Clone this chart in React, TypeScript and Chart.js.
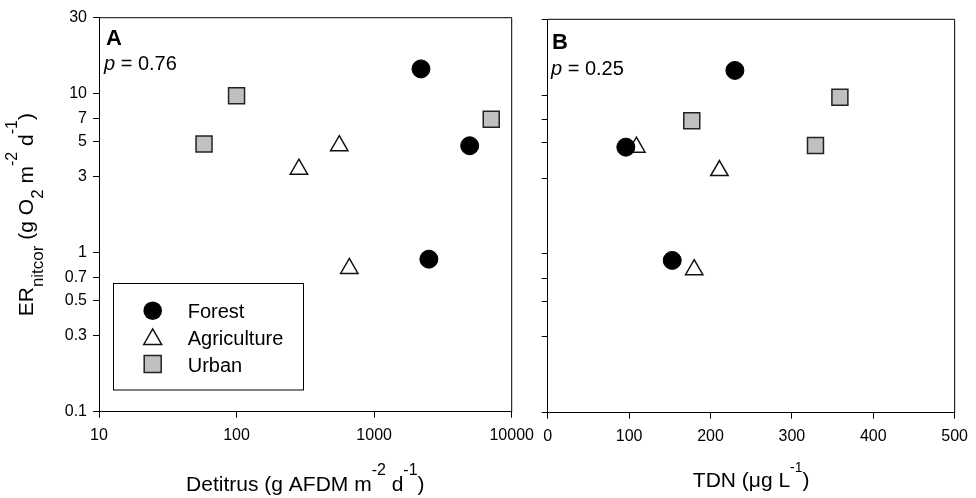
import React, { useEffect, useRef } from "react";
import { Chart, registerables } from "chart.js";
Chart.register(...registerables);

const FONT = 'Arial, "Liberation Sans", Helvetica, sans-serif';

// Tick values
const erTicks = [0.1, 0.3, 0.5, 0.7, 1, 3, 5, 7, 10, 30];
const detritusTicks = [10, 100, 1000, 10000];
const tdnTicks = [0, 100, 200, 300, 400, 500];

// Series values (same sites in both panels)
const forestER = [14.3, 4.7, 0.91];
const forestDetritus = [2190, 4950, 2500];
const forestTDN = [230, 96, 153];

const agricultureER = [3.35, 4.7, 0.795];
const agricultureDetritus = [284, 558, 660];
const agricultureTDN = [211, 109, 180];

const urbanER = [4.82, 9.7, 6.9];
const urbanDetritus = [58, 100, 7100];
const urbanTDN = [329, 359, 177];

const legendLabels = ["Forest", "Agriculture", "Urban"];

type Seg = { t: string; size: number; dy?: number; style?: string };

function drawRich(ctx: CanvasRenderingContext2D, segs: Seg[], x: number, y: number, align: "center" | "left") {
  let w = 0;
  for (const s of segs) {
    ctx.font = `${s.style || ""} ${s.size}px ${FONT}`;
    w += ctx.measureText(s.t).width;
  }
  let cx = align === "center" ? x - w / 2 : x;
  ctx.textAlign = "left";
  ctx.textBaseline = "alphabetic";
  ctx.fillStyle = "#000";
  for (const s of segs) {
    ctx.font = `${s.style || ""} ${s.size}px ${FONT}`;
    ctx.fillText(s.t, cx, y + (s.dy || 0));
    cx += ctx.measureText(s.t).width;
  }
}

const styles = {
  forest: { pointStyle: "circle", pointRadius: 9, backgroundColor: "#000", borderColor: "#000", borderWidth: 1 },
  agriculture: { pointStyle: "triangle", pointRadius: 10, backgroundColor: "#fff", borderColor: "#111", borderWidth: 1.5 },
  urban: { pointStyle: "rect", pointRadius: 11.3, backgroundColor: "#c0c0c0", borderColor: "#222", borderWidth: 1.5 },
};

function pts(xs: number[], ys: number[]) {
  return xs.map((x, i) => ({ x, y: ys[i] }));
}

function framePlugin(id: string, draw: (chart: any, ctx: CanvasRenderingContext2D) => void) {
  return {
    id,
    afterDraw(chart: any) {
      const ctx = chart.ctx as CanvasRenderingContext2D;
      const a = chart.chartArea;
      ctx.save();
      ctx.strokeStyle = "#000";
      ctx.lineWidth = 1;
      ctx.beginPath();
      ctx.moveTo(a.left, a.top);
      ctx.lineTo(a.right, a.top);
      ctx.lineTo(a.right, a.bottom);
      ctx.stroke();
      draw(chart, ctx);
      ctx.restore();
    },
  };
}

function yScale(width: number, showLabels: boolean) {
  return {
    type: "logarithmic",
    min: 0.1,
    max: 30,
    afterBuildTicks: (s: any) => {
      s.ticks = erTicks.map((v) => ({ value: v }));
    },
    afterFit: (s: any) => {
      s.width = width;
    },
    ticks: {
      autoSkip: false,
      color: "#000",
      font: { family: FONT, size: 16 },
      padding: 6,
      callback: (v: any) => (showLabels ? String(v) : ""),
    },
    grid: { display: true, drawOnChartArea: false, drawTicks: true, tickLength: 6, color: "#000", lineWidth: 1 },
    border: { display: true, color: "#000", width: 1 },
  };
}

export default function App() {
  const ref1 = useRef<HTMLCanvasElement>(null);
  const ref2 = useRef<HTMLCanvasElement>(null);

  useEffect(() => {
    const c1 = new Chart(ref1.current as HTMLCanvasElement, {
      type: "scatter",
      data: {
        datasets: [
          { label: legendLabels[0], data: pts(forestDetritus, forestER), ...styles.forest, clip: false } as any,
          { label: legendLabels[1], data: pts(agricultureDetritus, agricultureER), ...styles.agriculture, clip: false } as any,
          { label: legendLabels[2], data: pts(urbanDetritus, urbanER), ...styles.urban, clip: false } as any,
        ],
      },
      options: {
        responsive: false,
        animation: false,
        devicePixelRatio: 1,
        events: [],
        layout: { padding: { top: 17.7, left: 0, right: 976 - 511.7, bottom: 0 } },
        plugins: { legend: { display: false }, tooltip: { enabled: false } },
        scales: {
          x: {
            type: "logarithmic",
            min: 10,
            max: 10000,
            afterBuildTicks: (s: any) => {
              s.ticks = detritusTicks.map((v) => ({ value: v }));
            },
            afterFit: (s: any) => {
              s.height = 498 - 411.7;
            },
            ticks: {
              autoSkip: false,
              maxRotation: 0,
              color: "#000",
              font: { family: FONT, size: 16 },
              padding: 8,
              callback: (v: any) => String(v),
            },
            grid: { display: true, drawOnChartArea: false, drawTicks: true, tickLength: 6, color: "#000", lineWidth: 1 },
            border: { display: true, color: "#000", width: 1 },
          },
          y: yScale(99, true),
        } as any,
      },
      plugins: [
        framePlugin("deco1", (chart, ctx) => {
          const a = chart.chartArea;
          drawRich(ctx, [{ t: "A", size: 22, style: "bold" }], 106, 45, "left");
          drawRich(ctx, [{ t: "p", size: 20, style: "italic" }, { t: " = 0.76", size: 20 }], 104, 70, "left");
          // legend
          ctx.strokeStyle = "#000";
          ctx.lineWidth = 1;
          ctx.strokeRect(113.5, 283.5, 190, 106.5);
          const mx = 152.7;
          // circle
          ctx.beginPath();
          ctx.arc(mx, 310.7, 9.3, 0, Math.PI * 2);
          ctx.fillStyle = "#000";
          ctx.fill();
          // triangle
          const tr = 10.3;
          const ty = 336.7 + tr / 4;
          ctx.beginPath();
          ctx.moveTo(mx, ty - tr);
          ctx.lineTo(mx + tr * Math.sin((2 * Math.PI) / 3), ty + tr / 2);
          ctx.lineTo(mx - tr * Math.sin((2 * Math.PI) / 3), ty + tr / 2);
          ctx.closePath();
          ctx.fillStyle = "#fff";
          ctx.fill();
          ctx.lineWidth = 1.5;
          ctx.strokeStyle = "#111";
          ctx.stroke();
          // square
          ctx.fillStyle = "#c0c0c0";
          ctx.fillRect(mx - 8.5, 364 - 8.5, 17, 17);
          ctx.strokeStyle = "#222";
          ctx.strokeRect(mx - 8.5, 364 - 8.5, 17, 17);
          drawRich(ctx, [{ t: legendLabels[0], size: 20 }], 187.7, 318.3, "left");
          drawRich(ctx, [{ t: legendLabels[1], size: 20 }], 187.7, 344.5, "left");
          drawRich(ctx, [{ t: legendLabels[2], size: 20 }], 187.7, 371.7, "left");
          // x title
          const cx = (a.left + a.right) / 2;
          drawRich(
            ctx,
            [
              { t: "Detitrus (g AFDM m", size: 21 },
              { t: "-2", size: 16, dy: -16 },
              { t: " d", size: 21 },
              { t: "-1", size: 16, dy: -16 },
              { t: ")", size: 21 },
            ],
            cx,
            491,
            "center"
          );
          // y title
          ctx.save();
          ctx.translate(33.3, (a.top + a.bottom) / 2);
          ctx.rotate(-Math.PI / 2);
          drawRich(
            ctx,
            [
              { t: "ER", size: 21 },
              { t: "nitcor", size: 17, dy: 10 },
              { t: " (g O", size: 21 },
              { t: "2", size: 17, dy: 10 },
              { t: " m", size: 21 },
              { t: "-2", size: 16, dy: -16 },
              { t: " d", size: 21 },
              { t: "-1", size: 16, dy: -16 },
              { t: ")", size: 21 },
            ],
            0,
            0,
            "center"
          );
          ctx.restore();
        }),
      ],
    } as any);

    const c2 = new Chart(ref2.current as HTMLCanvasElement, {
      type: "scatter",
      data: {
        datasets: [
          { label: legendLabels[0], data: pts(forestTDN, forestER), ...styles.forest, clip: false } as any,
          { label: legendLabels[1], data: pts(agricultureTDN, agricultureER), ...styles.agriculture, clip: false } as any,
          { label: legendLabels[2], data: pts(urbanTDN, urbanER), ...styles.urban, clip: false } as any,
        ],
      },
      options: {
        responsive: false,
        animation: false,
        devicePixelRatio: 1,
        events: [],
        layout: { padding: { top: 19.3, left: 0, right: 976 - 959.3, bottom: 0 } },
        plugins: { legend: { display: false }, tooltip: { enabled: false } },
        scales: {
          x: {
            type: "linear",
            min: 0,
            max: 500,
            afterBuildTicks: (s: any) => {
              s.ticks = tdnTicks.map((v) => ({ value: v }));
            },
            afterFit: (s: any) => {
              s.height = 498 - 412.7;
            },
            ticks: {
              autoSkip: false,
              maxRotation: 0,
              color: "#000",
              font: { family: FONT, size: 16 },
              padding: 8,
              callback: (v: any) => String(v),
            },
            grid: { display: true, drawOnChartArea: false, drawTicks: true, tickLength: 6, color: "#000", lineWidth: 1 },
            border: { display: true, color: "#000", width: 1 },
          },
          y: yScale(547.7, false),
        } as any,
      },
      plugins: [
        framePlugin("deco2", (chart, ctx) => {
          const a = chart.chartArea;
          drawRich(ctx, [{ t: "B", size: 22, style: "bold" }], 552, 49, "left");
          drawRich(ctx, [{ t: "p", size: 20, style: "italic" }, { t: " = 0.25", size: 20 }], 551, 75, "left");
          const cx = (a.left + a.right) / 2;
          drawRich(
            ctx,
            [
              { t: "TDN (\u03bcg L", size: 21 },
              { t: "-1", size: 14, dy: -15 },
              { t: ")", size: 21 },
            ],
            cx,
            487,
            "center"
          );
        }),
      ],
    } as any);

    return () => {
      c1.destroy();
      c2.destroy();
    };
  }, []);

  const cs: React.CSSProperties = { position: "absolute", left: 0, top: 0, width: 976, height: 498 };
  return (
    <div style={{ position: "absolute", left: 0, top: 0, width: 976, height: 498, background: "#fff" }}>
      <canvas ref={ref1} width={976} height={498} style={cs} />
      <canvas ref={ref2} width={976} height={498} style={cs} />
    </div>
  );
}
